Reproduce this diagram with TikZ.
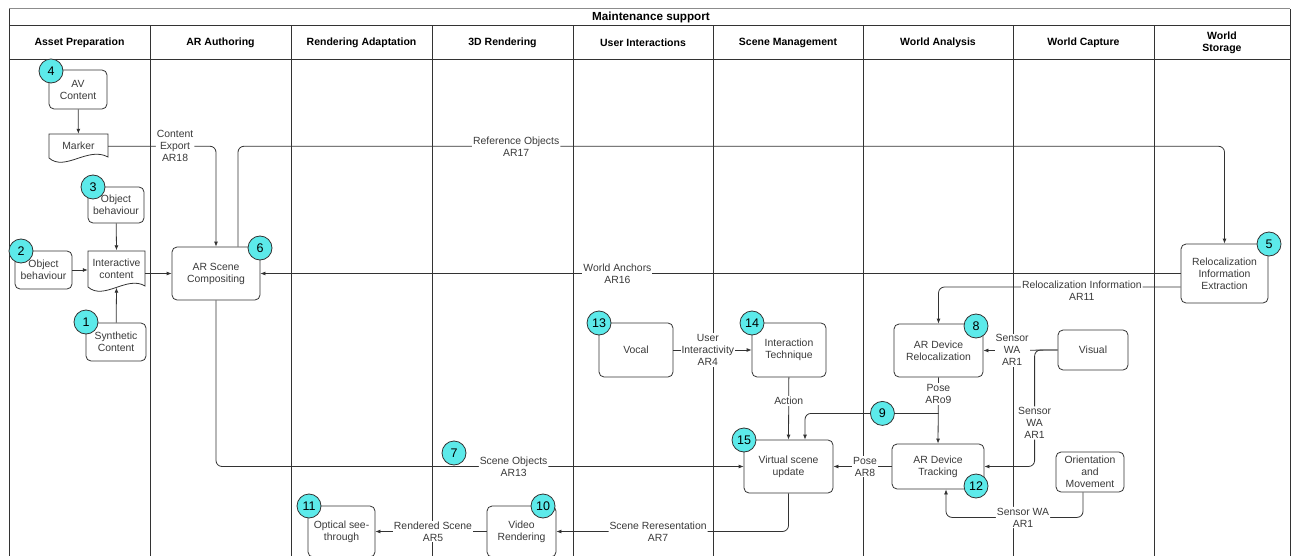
\documentclass[tikz,border=0pt]{standalone}
\usepackage{fontspec}
\setmainfont{Liberation Sans}
\usetikzlibrary{arrows.meta}
\definecolor{badgecyan}{HTML}{5CEAEA}
\definecolor{linegray}{HTML}{333333}
\definecolor{textgray}{HTML}{3A3A3A}

\begin{document}
\begin{tikzpicture}[x=1pt, y=-1pt]
			\tikzstyle{Lane} = [draw=linegray, line width=1pt]
			\tikzstyle{Box} = [rectangle, rounded corners=5pt, draw=linegray, line width=0.8pt, fill=white, align=center, inner sep=1pt, text=textgray, font=\fontsize{10.4}{12}\selectfont]
			\tikzstyle{DocText} = [rectangle, align=center, inner sep=1pt, text=textgray, font=\fontsize{10.4}{12}\selectfont]
			\tikzstyle{Badge} = [circle, draw=linegray, line width=0.8pt, fill=badgecyan, minimum size=24, inner sep=0pt, font=\fontsize{12.5}{12}\selectfont]
			\tikzstyle{Flow} = [draw=linegray, line width=0.8pt, -{Latex[length=5pt,width=4pt]}]
			\tikzstyle{Lbl} = [fill=white, inner sep=1pt, align=center, text=textgray, font=\fontsize{10.4}{12}\selectfont]
			\tikzstyle{Head} = [align=center, font=\bfseries\fontsize{10.5}{12.5}\selectfont]
			\useasboundingbox (0,0) rectangle (1292,556);
			\clip (0,0) rectangle (1292,556);
			% pool and lanes
			\draw [Lane] (9,570) -- (9,9);
			\draw [Lane] (1290,9) -- (1290,570);
			\draw [Lane, draw=black!45] (9,9) -- (1290,9);
			\draw [Lane] (9,26) -- (1290,26);
			\draw [Lane] (9,60) -- (1290,60);
			\foreach \x in {150,291,432,573,713,863,1013,1154}
				\draw [Lane] (\x,26) -- (\x,570);
			\node (title) at (651,17.5) [Head, font=\bfseries\fontsize{11.7}{12}\selectfont] {Maintenance support};
			\foreach \x/\name in {79.5/Asset Preparation, 220.5/AR Authoring, 361.5/Rendering Adaptation, 502.5/3D Rendering, 643/User Interactions, 788/Scene Management, 938/World Analysis, 1083.5/World Capture, 1222/World\\Storage}
				\node at (\x,43) [Head] {\name};
			% asset preparation
			\node (av) at (78,89.5) [Box, minimum width=58, minimum height=39] {AV\\Content};
			\node (marker) at (78.5,146.25) [DocText, minimum width=59, minimum height=24.5] {Marker};
			\draw [draw=linegray, line width=0.8pt] (49,134) -- (108,134) -- (108,157) .. controls (88,146) and (65,172) .. (49,158) -- cycle;
			\node (ob3) at (116,205) [Box, minimum width=56, minimum height=36] {Object\\behaviour};
			\node (inter) at (116.5,269) [DocText, minimum width=57, minimum height=37] {Interactive\\content};
			\draw [draw=linegray, line width=0.8pt] (88,251) -- (145,251) -- (145,286) .. controls (127,275) and (104,301) .. (88,287) -- cycle;
			\node (ob2) at (43.5,270) [Box, minimum width=57, minimum height=38] {Object\\behaviour};
			\node (syn) at (116,342) [Box, minimum width=60, minimum height=38] {Synthetic\\Content};
			% authoring and rendering
			\node (comp) at (216,273.5) [Box, minimum width=88, minimum height=53] {AR Scene\\Compositing};
			\node (video) at (521.5,531.5) [Box, minimum width=69, minimum height=51] {Video\\Rendering};
			\node (optical) at (341.5,531.5) [Box, minimum width=67, minimum height=51] {Optical see-\\through};
			% interactions and scene
			\node (vocal) at (636,350) [Box, minimum width=74, minimum height=54] {Vocal};
			\node (tech) at (789,350) [Box, minimum width=74, minimum height=54] {Interaction\\Technique};
			\node (virt) at (788.5,466.5) [Box, minimum width=89, minimum height=53] {Virtual scene\\update};
			% world analysis, capture, storage
			\node (relo) at (938.5,350.5) [Box, minimum width=89, minimum height=53] {AR Device\\Relocalization};
			\node (track) at (938,466.5) [Box, minimum width=92, minimum height=45] {AR Device\\Tracking};
			\node (visual) at (1093,350) [Box, minimum width=70, minimum height=40] {Visual};
			\node (orient) at (1090,472) [Box, minimum width=68, minimum height=40] {Orientation\\and\\Movement};
			\node (reloc) at (1224.5,273.5) [Box, minimum width=87, minimum height=59] {Relocalization\\Information\\Extraction};
			% flows
			\draw [Flow] (av) to (marker);
			\draw [Flow] (ob3) to (inter.north);
			\draw [Flow] (ob2) to (inter.west |- ob2.east);
			\draw [Flow] (syn) to (inter.south);
			\draw [Flow] (inter.east |- comp.west) to (comp.west);
			\draw [Flow, rounded corners=6pt] (marker.east) -| node [Lbl, pos=0.31] {Content\\Export\\AR18} (comp.north);
			\draw [Flow, rounded corners=6pt] ([xshift=22pt]comp.north) |- node [Lbl, pos=0.641] {Reference Objects\\AR17} (reloc.north |- marker.east) -- (reloc.north);
			\draw [Flow] (reloc.west) -- node [Lbl, pos=0.612] {World Anchors\\AR16} (comp.east);
			\draw [Flow, rounded corners=6pt] ([yshift=-13.5pt]reloc.west) -| node [Lbl, pos=0.204, yshift=-4pt] {Relocalization Information\\AR11} (relo.north);
			\draw [Flow] (visual.west) -- node [Lbl, pos=0.613] {Sensor\\WA\\AR1} (relo.east);
			\draw [Flow, rounded corners=6pt] (visual.west) -- ++(-23,0) |- node [Lbl, pos=0.313] {Sensor\\WA\\AR1} (track.east);
			\draw [Flow] (relo.south) -- node [Lbl, pos=0.25] {Pose\\ARo9} (track.north);
			\draw [Flow, rounded corners=6pt] ([yshift=-36pt]relo.south) -| node [Badge, pos=0.21] {9} ([xshift=16.5pt]virt.north);
			\draw [Flow, rounded corners=6pt] ([xshift=-7pt]orient.south) -- ++(0,25) -| node [Lbl, pos=0.219] {Sensor WA\\AR1} ([xshift=8pt]track.south);
			\draw [Flow] (track.west) -- node [Lbl, pos=0.458] {Pose\\AR8} (virt.east);
			\draw [Flow] (vocal) -- node [Lbl, pos=0.44] {User\\Interactivity\\AR4} (tech);
			\draw [Flow] (tech) -- node [Lbl, pos=0.38] {Action} (virt.north);
			\draw [Flow, rounded corners=6pt] (comp.south) |- node [Lbl, pos=0.782] {Scene Objects\\AR13} (virt.west);
			\draw [Flow, rounded corners=6pt] (virt.south) |- node [Lbl, pos=0.781] {Scene Reresentation\\AR7} (video.east);
			\draw [Flow] (video.west) -- node [Lbl, pos=0.482] {Rendered Scene\\AR5} (optical.east);
			% numbered badges
			\node (b4) at (51,71) [Badge] {4};
			\node (b3) at (93,187) [Badge] {3};
			\node (b2) at (21,251) [Badge] {2};
			\node (b1) at (86,322) [Badge] {1};
			\node (b6) at (260,248) [Badge] {6};
			\node (b5) at (1269,244) [Badge] {5};
			\node (b8) at (976,326) [Badge] {8};
			\node (b12) at (976,486) [Badge] {12};
			\node (b15) at (744,440) [Badge] {15};
			\node (b14) at (752,323) [Badge] {14};
			\node (b13) at (599,323) [Badge] {13};
			\node (b7) at (454,453) [Badge] {7};
			\node (b10) at (543,506) [Badge] {10};
			\node (b11) at (309,506) [Badge] {11};
		\end{tikzpicture}
\end{document}
